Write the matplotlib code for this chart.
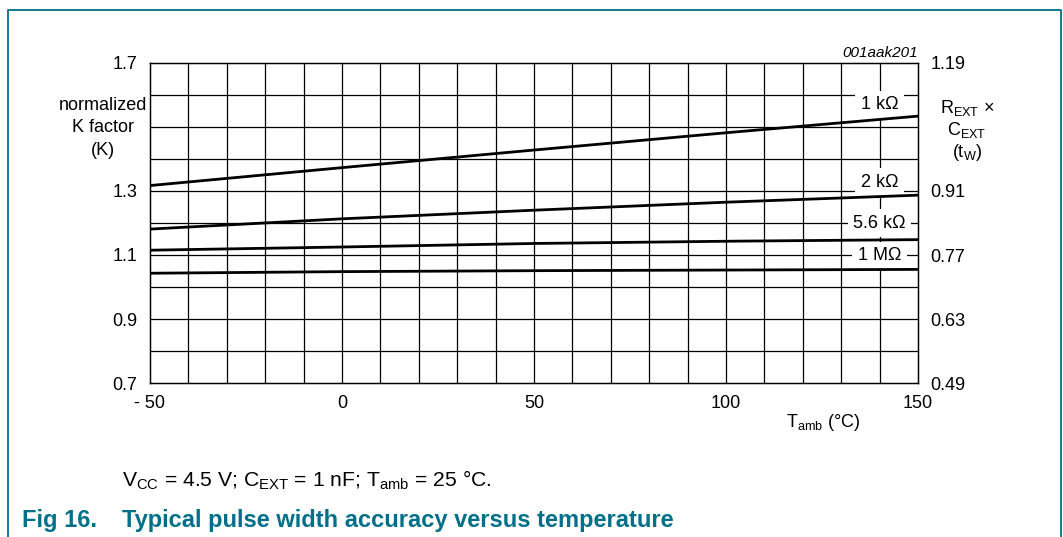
import matplotlib
matplotlib.use("Agg")
import matplotlib.pyplot as plt
from matplotlib.lines import Line2D

plt.rcParams['font.family'] = ['Liberation Sans', 'DejaVu Sans']
plt.rcParams['mathtext.fontset'] = 'custom'
plt.rcParams['mathtext.rm'] = 'Liberation Sans'
plt.rcParams['mathtext.it'] = 'Liberation Sans:italic'
plt.rcParams['mathtext.default'] = 'regular'

# temperature (deg C) and normalized K factor for each R_EXT
temps = [-50, 0, 50, 100, 150]
k_1k = [1.317, 1.373, 1.428, 1.482, 1.534]
k_2k = [1.181, 1.213, 1.240, 1.265, 1.287]
k_5k6 = [1.115, 1.125, 1.136, 1.143, 1.148]
k_1M = [1.043, 1.048, 1.051, 1.053, 1.055]
curves = [(k_1k, '1 k\u03a9', 1.569), (k_2k, '2 k\u03a9', 1.328),
          (k_5k6, '5.6 k\u03a9', 1.200), (k_1M, '1 M\u03a9', 1.097)]

left_ticks = [0.7, 0.9, 1.1, 1.3, 1.7]
right_ticks = [0.49, 0.63, 0.77, 0.91, 1.19]
xtick_vals = [-50, 0, 50, 100, 150]
xtick_labels = ['- 50', '0', '50', '100', '150']

teal = '#006f8a'
fs = 13

fig = plt.figure(figsize=(10.63, 5.37), dpi=100)
W, H = 1063, 537
ax = fig.add_axes([150 / W, 154 / H, 768 / W, 320 / H])

ax.set_xlim(-50, 150)
ax.set_ylim(0.7, 1.7)
for x in range(-40, 150, 10):
    ax.axvline(x, color='black', lw=0.9, zorder=1)
for i in range(1, 10):
    ax.axhline(0.7 + i * 0.1, color='black', lw=0.9, zorder=1)

for vals, name, ly in curves:
    ax.plot(temps, vals, color='black', lw=2.0, zorder=5)
    ax.text(140, ly, name, ha='center', va='center', fontsize=fs, zorder=4,
            bbox=dict(boxstyle='square,pad=0.3', fc='white', ec='none'))

ax.set_xticks(xtick_vals)
ax.set_xticklabels(xtick_labels)
ax.set_yticks(left_ticks)
ax.tick_params(axis='x', length=0, pad=9, labelsize=fs)
ax.tick_params(axis='y', length=0, pad=9, labelsize=fs)
for s in ax.spines.values():
    s.set_linewidth(1.0)

ax2 = ax.twinx()
ax2.set_ylim(0.49, 1.19)
ax2.set_yticks(right_ticks)
ax2.set_yticklabels(['%.2f' % v for v in right_ticks])
ax2.tick_params(axis='y', length=0, pad=9, labelsize=fs)

# axis titles
ax.text(-62.2, 1.566, 'normalized', ha='center', va='center', fontsize=fs,
        clip_on=False, zorder=5,
        bbox=dict(boxstyle='square,pad=0.1', fc='white', ec='none'))
ax.text(-62.2, 1.497, 'K factor', ha='center', va='center', fontsize=fs, clip_on=False)
ax.text(-62.2, 1.428, '(K)', ha='center', va='center', fontsize=fs, clip_on=False)

ax.text(162.8, 1.559, '$R_{EXT}$ \u00d7', ha='center', va='center', fontsize=fs, clip_on=False)
ax.text(162.8, 1.491, '$C_{EXT}$', ha='center', va='center', fontsize=fs, clip_on=False)
ax.text(162.8, 1.419, '($t_{W}$)', ha='center', va='center', fontsize=fs, clip_on=False)

ax.text(150, 1.731, '001aak201', ha='right', va='center', fontsize=11,
        style='italic', clip_on=False)
ax.text(125.3, 0.578, '$T_{amb}$ (\u00b0C)', ha='center', va='center', fontsize=fs,
        clip_on=False)

# caption
fig.text(122 / W, 1 - 480 / H, '$V_{CC}$ = 4.5 V; $C_{EXT}$ = 1 nF; $T_{amb}$ = 25 \u00b0C.',
         ha='left', va='center', fontsize=15.2)
fig.text(22 / W, 1 - 520 / H, 'Fig 16.', ha='left', va='center', fontsize=17,
         fontweight='bold', color=teal)
fig.text(122 / W, 1 - 520 / H, 'Typical pulse width accuracy versus temperature',
         ha='left', va='center', fontsize=17, fontweight='bold', color=teal)

# frame around the figure
fx = [7.5 / W, 7.5 / W, 1060.5 / W, 1060.5 / W]
fy = [0, 1 - 9.5 / H, 1 - 9.5 / H, 0]
fig.add_artist(Line2D(fx, fy, color=teal, lw=1.3, transform=fig.transFigure))

fig.savefig('out.png', dpi=100)
